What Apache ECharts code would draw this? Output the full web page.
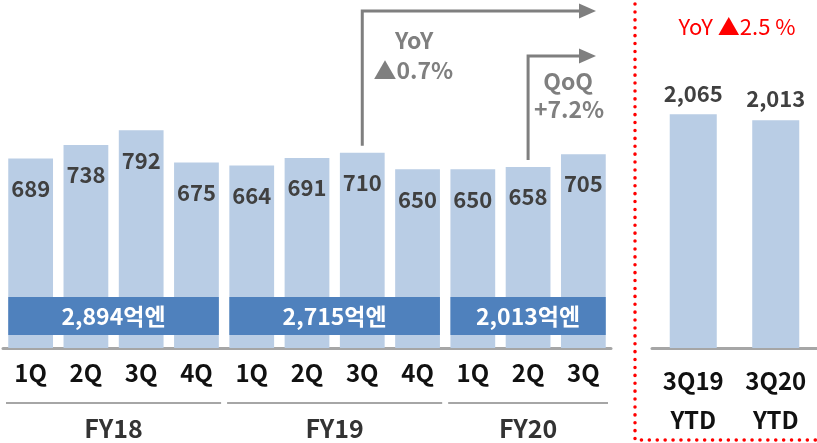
<!DOCTYPE html>
<html><head><meta charset="utf-8">
<script src="https://cdn.jsdelivr.net/npm/echarts@6/dist/echarts.min.js"></script>
<style>html,body{margin:0;padding:0;background:#fff}#c{width:817px;height:443px}</style>
</head><body><div id="c"></div>
<script>
const quarters = ['1Q','2Q','3Q','4Q','1Q','2Q','3Q','4Q','1Q','2Q','3Q'];
const quarterValues = [689,738,792,675,664,691,710,650,650,658,705];
const fiscalYears = ['FY18','FY19','FY20'];
const yearStart = [0,4,8];
const yearEnd = [3,7,10];
const yearTotals = ['2,894억엔','2,715억엔','2,013억엔'];
const ytdCategories = ['3Q19\nYTD','3Q20\nYTD'];
const ytdValues = [2065,2013];
const ytdNote = 'YoY ▲2.5 %';
const yoyNote = ['YoY','▲0.7%'];
const qoqNote = ['QoQ','+7.2%'];
const yoyIndex = 6, qoqIndex = 9;

const F = '"Noto Sans CJK KR", "Noto Sans", sans-serif';
const chart = echarts.init(document.getElementById('c'), null, {renderer:'canvas'});

const option = {
  animation: false,
  grid: [
    {left: 3, width: 608, top: 73, height: 275},
    {left: 652, width: 168, top: 65, height: 283}
  ],
  xAxis: [
    {type:'category', gridIndex:0, data: quarters,
     axisTick:{show:false}, axisLine:{lineStyle:{color:'#A6A6A6', width:3}},
     axisLabel:{fontSize:24, fontWeight:'bold', color:'#111', fontFamily:F, margin:13}},
    {type:'category', gridIndex:1, data: ytdCategories,
     axisTick:{show:false}, axisLine:{lineStyle:{color:'#A6A6A6', width:3}},
     axisLabel:{fontSize:24, fontWeight:'bold', color:'#111', fontFamily:F, margin:13, lineHeight:39}}
  ],
  yAxis: [
    {type:'value', gridIndex:0, min:0, max:1000, show:false},
    {type:'value', gridIndex:1, min:0, max:2500, show:false}
  ],
  series: [
    {type:'bar', xAxisIndex:0, yAxisIndex:0, data: quarterValues, barCategoryGap:'19%',
     itemStyle:{color:'#B9CDE5'},
     label:{show:true, position:'insideTop', distance:19, fontSize:22, fontWeight:'bold', color:'#404040', fontFamily:F, lineHeight:22}},
    {type:'bar', xAxisIndex:1, yAxisIndex:1, data: ytdValues, barWidth:'57%',
     itemStyle:{color:'#B9CDE5'},
     label:{show:true, position:'top', distance:10, fontSize:22, fontWeight:'bold', color:'#404040', fontFamily:F, lineHeight:22,
       formatter: p => p.value.toLocaleString('en-US')}},
    {type:'custom', xAxisIndex:0, yAxisIndex:0, z:5, clip:false,
     data: fiscalYears.map((n,i)=>[yearStart[i], yearEnd[i], i]),
     renderItem: function(params, api){
       const i = api.value(2);
       const s = api.coord([api.value(0), 0]);
       const e = api.coord([api.value(1), 0]);
       const band = api.size([1, 0])[0];
       const bw = band*0.81;
       const x0 = s[0]-bw/2, x1 = e[0]+bw/2;
       const base = s[1];
       return {type:'group', children:[
         {type:'rect', shape:{x:x0, y:base-51, width:x1-x0, height:38}, style:{fill:'#4F81BD'}},
         {type:'text', x:(x0+x1)/2, y:base-32, style:{text: yearTotals[i], fill:'#fff', fontSize:23, fontFamily:F, fontWeight:'bold', align:'center', verticalAlign:'middle'}},
         {type:'line', shape:{x1: s[0]-band/2+3, y1: base+55, x2: e[0]+band/2-3, y2: base+55}, style:{stroke:'#A6A6A6', lineWidth:2}},
         {type:'text', x:(s[0]+e[0])/2, y: base+80, style:{text: fiscalYears[i], fill:'#333', fontSize:25, fontFamily:F, fontWeight:'bold', align:'center', verticalAlign:'middle'}}
       ]};
     }}
  ]
};
chart.setOption(option);

const yp = chart.convertToPixel({seriesIndex:0}, [yoyIndex, quarterValues[yoyIndex]]);
const qp = chart.convertToPixel({seriesIndex:0}, [qoqIndex, quarterValues[qoqIndex]]);
const gray = '#7F7F7F';
const arrowEnd = 581, arrowTip = 596;
function arrow(p, yTop){
  return [
    {type:'polyline', shape:{points:[[p[0], p[1]-7],[p[0], yTop],[arrowEnd, yTop]]}, style:{stroke:gray, lineWidth:3, fill:null}},
    {type:'polygon', shape:{points:[[arrowEnd-2, yTop-7.5],[arrowTip, yTop],[arrowEnd-2, yTop+7.5]]}, style:{fill:gray}}
  ];
}
const textStyle = (t, c) => ({text:t, fill:c, fontSize:23, fontFamily:F, fontWeight:'bold', align:'center', verticalAlign:'middle'});
chart.setOption({
  graphic: [
    ...arrow(yp, 11),
    ...arrow(qp, 56),
    {type:'text', x: yp[0]+52, y: 40, style: textStyle(yoyNote[0], gray)},
    {type:'text', x: yp[0]+51, y: 70, style: textStyle(yoyNote[1], gray)},
    {type:'text', x: qp[0]+40, y: 81, style: textStyle(qoqNote[0], gray)},
    {type:'text', x: qp[0]+41, y: 109, style: textStyle(qoqNote[1], gray)},
    {type:'text', x: 737, y: 27, style: {text: ytdNote, fill:'#FF0000', fontSize:22, fontFamily:F, align:'center', verticalAlign:'middle'}},
    {type:'polyline', shape:{points:[[635, 4],[635, 440],[817, 440]]}, style:{stroke:'#FF0000', lineWidth:3.5, lineDash:[0.1, 7.8], lineCap:'round', fill:null}}
  ]
});
</script></body></html>
